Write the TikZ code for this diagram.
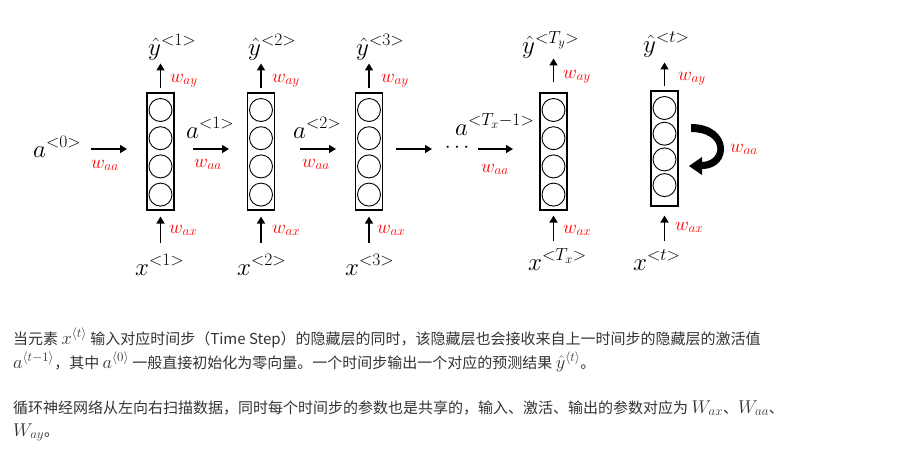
\RequirePackage{fix-cm}
\documentclass[tikz,border=0pt]{standalone}
\usepackage{fontspec}
\newfontfamily\cjk{Noto Sans CJK SC}
\usetikzlibrary{arrows.meta}
\definecolor{txtgray}{HTML}{333333}
\definecolor{wred}{HTML}{FF0000}
\newcommand\kmath[1]{{\fontsize{18.5}{18.5}\selectfont$#1$}}
% name, cx, cy, height, circle spacing
\newcommand\rnncell[5]{%
  \node[cellbox, minimum height=#4] (#1) at (#2,#3) {};
  \foreach \k in {1,...,4} {\node[unit] (#1c\k) at ({#2},{#3-#4/2+17+#5*(\k-1)}) {};}
}
\begin{document}
\begin{tikzpicture}[x=1pt,y=-1pt,
  cellbox/.style={draw, line width=1.1pt, minimum width=27pt, inner sep=0pt},
  unit/.style={draw, circle, line width=0.9pt, minimum size=23pt, inner sep=0pt},
  arr/.style={-{Triangle[length=7pt,width=8pt]}, line width=1.4pt},
  wlab/.style={text=wred, inner sep=0pt, anchor=base west, font=\fontsize{19}{19}\selectfont},
  vlab/.style={inner sep=0pt, anchor=base west, font=\fontsize{25}{25}\selectfont},
  para/.style={anchor=base west, text=txtgray, inner sep=0pt, font=\cjk\fontsize{15}{15}\selectfont}]
\useasboundingbox (0,0) rectangle (911,467);

% cells
\rnncell{b1}{160.5}{151.5}{117}{28.2}
\rnncell{b2}{261}{151.5}{117}{28.2}
\rnncell{b3}{369}{151.5}{117}{28.2}
\rnncell{bT}{553.5}{151.5}{117}{28.2}
\rnncell{bt}{664.5}{148.5}{115}{25.7}

% state labels
\node[vlab] (a0) at (33,157) {$a^{<0>}$};
\node[vlab] (a1) at (186,138) {$a^{<1>}$};
\node[vlab] (a2) at (293,138) {$a^{<2>}$};
\node[vlab] (aT) at (455,135) {$a^{<T_x-1>}$};
\node[inner sep=0pt, font=\fontsize{21}{21}\selectfont] (dots) at (457,148) {$\cdots$};

% output labels
\node[vlab] (y1) at (148,55) {$\hat{y}^{<1>}$};
\node[vlab] (y2) at (248,55) {$\hat{y}^{<2>}$};
\node[vlab] (y3) at (356,55) {$\hat{y}^{<3>}$};
\node[vlab] (yT) at (522,53) {$\hat{y}^{<T_y>}$};
\node[vlab] (yt) at (643,52) {$\hat{y}^{<t>}$};

% input labels
\node[vlab] (x1) at (135,275) {$x^{<1>}$};
\node[vlab] (x2) at (237,275) {$x^{<2>}$};
\node[vlab] (x3) at (345,275) {$x^{<3>}$};
\node[vlab] (xT) at (528,270) {$x^{<T_x>}$};
\node[vlab] (xt) at (633,270) {$x^{<t>}$};

% weight labels
\node[wlab] (way1) at (170,82) {$w_{ay}$};
\node[wlab] (way2) at (272,82) {$w_{ay}$};
\node[wlab] (way3) at (381,82) {$w_{ay}$};
\node[wlab] (wayT) at (563,78) {$w_{ay}$};
\node[wlab] (wayt) at (678,80) {$w_{ay}$};
\node[wlab] (wax1) at (169,233) {$w_{ax}$};
\node[wlab] (wax2) at (272,233) {$w_{ax}$};
\node[wlab] (wax3) at (377,233) {$w_{ax}$};
\node[wlab] (waxT) at (563,233) {$w_{ax}$};
\node[wlab] (waxt) at (675,230) {$w_{ax}$};
\node[wlab] (waa1) at (91,168) {$w_{aa}$};
\node[wlab] (waa2) at (194,167) {$w_{aa}$};
\node[wlab] (waa3) at (302,167) {$w_{aa}$};
\node[wlab] (waaT) at (481,172) {$w_{aa}$};
\node[wlab] (waat) at (730,152) {$w_{aa}$};

% horizontal arrows
\coordinate (h1s) at (91,149);  \coordinate (h1e) at (127,149);
\coordinate (h2s) at (193,149); \coordinate (h2e) at (229,149);
\coordinate (h3s) at (300,149); \coordinate (h3e) at (336,149);
\coordinate (h4s) at (396,149); \coordinate (h4e) at (432,149);
\coordinate (h5s) at (478,149); \coordinate (h5e) at (513,149);
\foreach \i in {1,...,5} {\draw[arr] (h\i s) -- (h\i e);}

% vertical arrows
\foreach \b in {b1,b2,b3} {
  \draw[arr] ([yshift=4pt]\b.north) -- ([yshift=29pt]\b.north);
  \draw[arr] ([yshift=-32pt]\b.south) -- ([yshift=-6pt]\b.south);
}
\draw[arr] ([yshift=10pt]bT.north) -- ([yshift=34pt]bT.north);
\draw[arr] ([yshift=-30pt]bT.south) -- ([yshift=-5pt]bT.south);
\draw[arr] ([yshift=4pt]bt.north) -- ([yshift=28pt]bt.north);
\draw[arr] ([yshift=-34pt]bt.south) -- ([yshift=-9pt]bt.south);

% recurrent loop (tapered thick arrow)
\fill (691,124) .. controls (733,124) and (733,169) .. (702,169)
  -- (702,175) -- (689,166) -- (702,157) -- (702,162)
  .. controls (724,161) and (724,132) .. (691,132) -- cycle;

% text
\node[para] (p1) at (13,344) {当元素 \kmath{x^{\langle t\rangle}} 输入对应时间步（Time Step）的隐藏层的同时，该隐藏层也会接收来自上一时间步的隐藏层的激活值};
\node[para] (p2) at (13,368) {\kmath{a^{\langle t-1\rangle}}，其中 \kmath{a^{\langle 0\rangle}} 一般直接初始化为零向量。一个时间步输出一个对应的预测结果 \kmath{\hat{y}^{\langle t\rangle}}。};
\node[para] (p3) at (13,413) {循环神经网络从左向右扫描数据，同时每个时间步的参数也是共享的，输入、激活、输出的参数对应为 \kmath{W_{ax}}、\kmath{W_{aa}}、};
\node[para] (p4) at (13,436) {\kmath{W_{ay}}。};
\end{tikzpicture}
\end{document}
